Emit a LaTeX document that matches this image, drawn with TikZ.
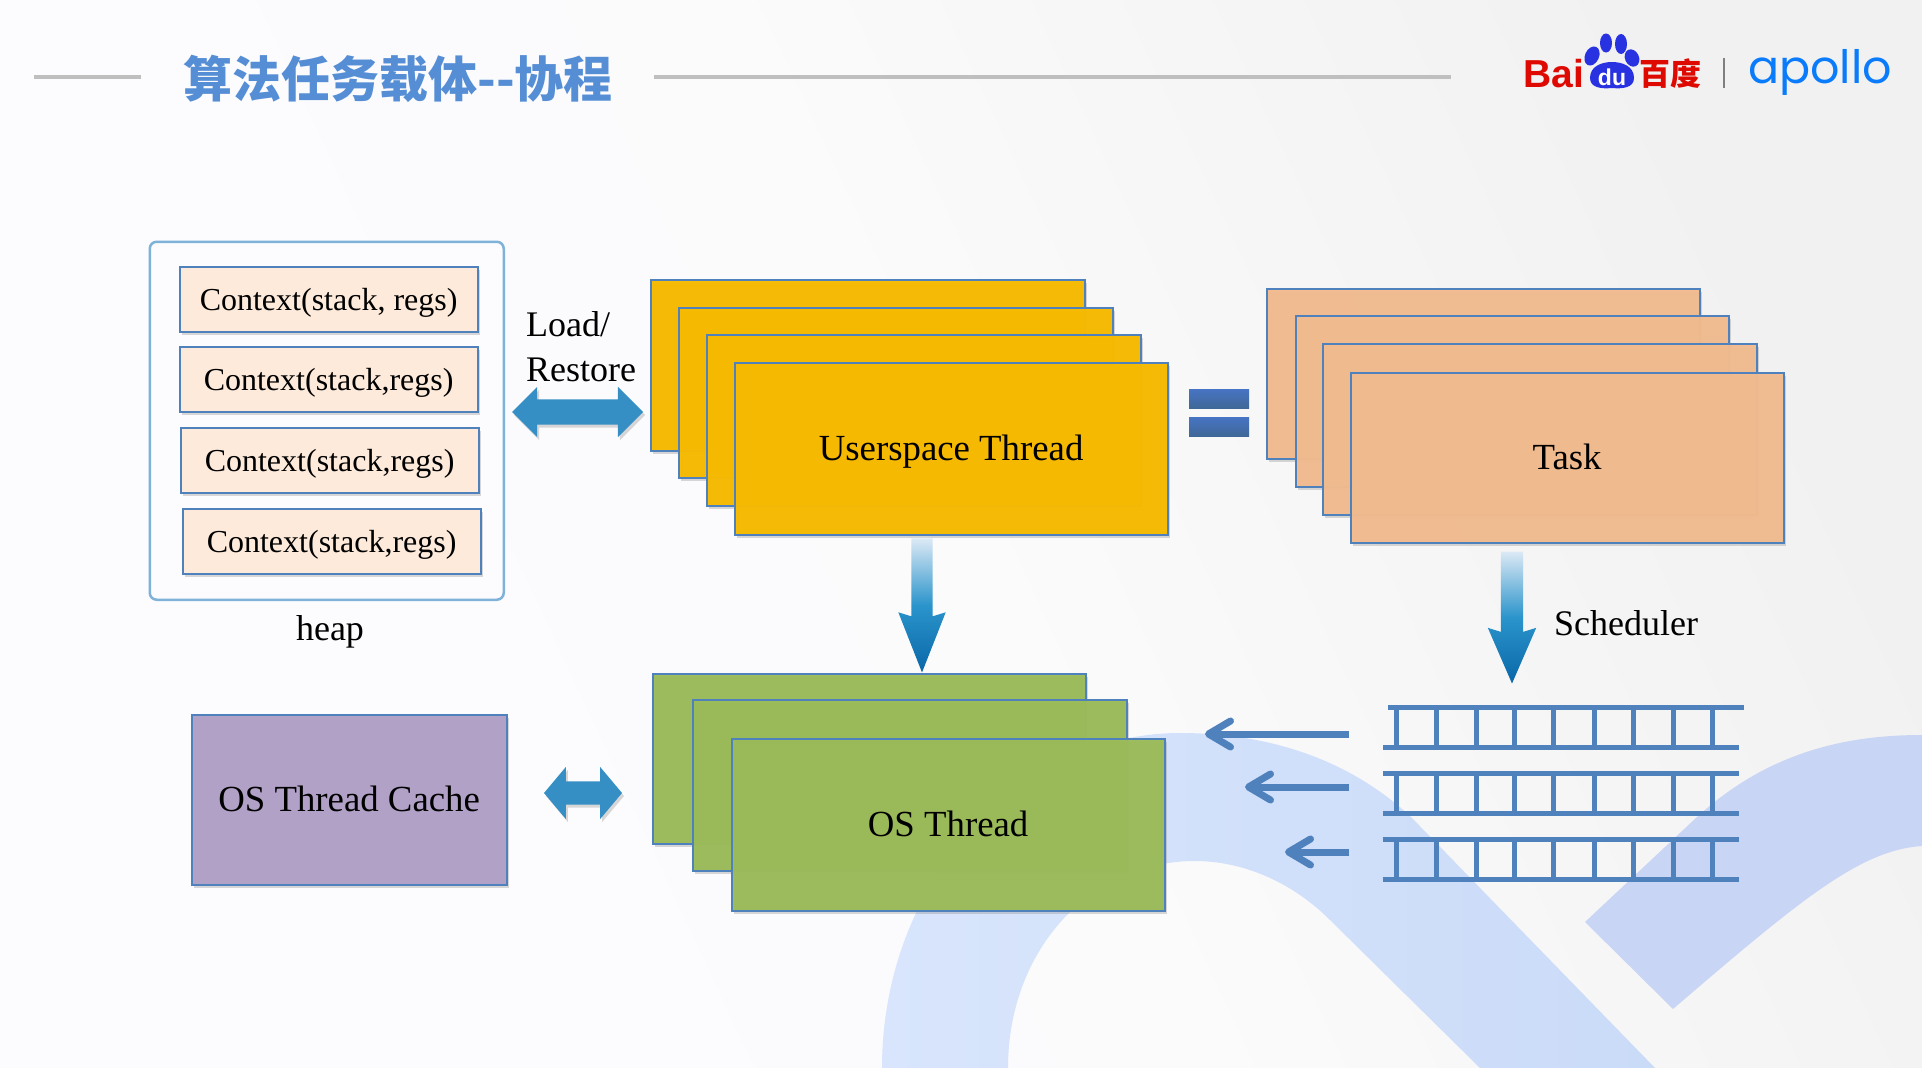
\documentclass[tikz,border=0pt]{standalone}
\usepackage{fontspec}
\setmainfont{Liberation Serif}
\newfontfamily\titlefont{Noto Sans CJK SC}
\newfontfamily\baidufont{Liberation Sans}
\newfontfamily\apollofont{Poppins}
\usetikzlibrary{arrows.meta,shapes.arrows,shadows}
\definecolor{framec}{HTML}{4F81BD}
\definecolor{yellowc}{HTML}{F7BA00}
\definecolor{orangec}{HTML}{F1BB8F}
\definecolor{greenc}{HTML}{9BBB59}
\definecolor{purplec}{HTML}{B1A0C7}
\definecolor{ctxc}{HTML}{FDEADA}
\definecolor{heapc}{HTML}{7FB2D9}
\definecolor{arrowc}{HTML}{358FC4}
\definecolor{archl}{HTML}{D8E5FC}
\definecolor{archr}{HTML}{CADBF8}
\definecolor{bandc}{HTML}{C9D5F5}
\definecolor{titlec}{HTML}{558ED5}
\definecolor{rulec}{HTML}{BFBFBF}
\definecolor{baiduc}{HTML}{DE0A02}
\definecolor{pawc}{HTML}{2932E1}
\definecolor{apolloc}{HTML}{0A7BFA}
\definecolor{fadetop}{HTML}{DCE9F5}
\definecolor{fademid}{HTML}{2A94CB}
\definecolor{fadeend}{HTML}{0A67A8}
\definecolor{bgl}{HTML}{FCFCFF}
\definecolor{bgm}{HTML}{FBFBFC}
\definecolor{bgr}{HTML}{F1F1F1}
\tikzset{
  softshadow/.style={drop shadow={opacity=.3,shadow xshift=2pt,shadow yshift=-3pt}},
  sheet/.style={draw=framec,line width=2.2pt,anchor=north west,inner sep=0pt,softshadow,fill opacity=.97,text opacity=1,
    xshift=-1.5pt,yshift=1.5pt,text height=25pt,text depth=2pt,font=\fontsize{36.8}{44}\selectfont},
  ctx/.style={draw=framec,line width=2.2pt,fill=ctxc,anchor=north west,inner sep=0pt,softshadow,xshift=-1.5pt,yshift=1.5pt,
    minimum width=298pt,minimum height=65pt,text height=25pt,text depth=1.6pt,font=\fontsize{32}{36}\selectfont},
  plain/.style={inner sep=0pt,font=\fontsize{36}{45}\selectfont},
  downarrow/.style={single arrow,shape border rotate=270,inner sep=0pt,anchor=tip,
    single arrow head indent=4pt,top color=fadetop,bottom color=fadeend,middle color=fademid},
  twoarrow/.style={double arrow,inner sep=0pt,fill=arrowc,softshadow},
  qarrow/.style={draw=framec,line width=7pt,-{Straight Barb[length=22pt,width=26pt,round,line width=7pt]},line cap=butt},
}
\begin{document}
\begin{tikzpicture}[x=1pt,y=-1pt]
\useasboundingbox (0,0) rectangle (1922,1068);
\shade[left color=bgl,right color=bgr,middle color=bgm,shading angle=115] (0,0) rectangle (1922,1068);
% background marks
\shade[left color=archl,right color=archr] (882,1068) .. controls (882,880) and (1020,733) .. (1180,733)
  .. controls (1270,733) and (1350,760) .. (1411,817) -- (1655,1068) -- (1480,1068) -- (1330,920)
  .. controls (1290,880) and (1240,861) .. (1195,861)
  .. controls (1090,861) and (1008,950) .. (1008,1068) -- cycle;
\fill[bandc] (1585,922) -- (1697,817) .. controls (1770,750) and (1850,735) .. (1922,735)
  -- (1922,846) .. controls (1860,850) and (1800,900) .. (1673,1009) -- cycle;
% title
\draw[rulec,line width=3.5pt] (34,77) -- (141,77);
\draw[rulec,line width=3.5pt] (654,77) -- (1451,77);
\node[text=titlec,inner sep=0pt] (title) at (398,79) {\titlefont\bfseries\fontsize{49}{56}\selectfont 算法任务载体--协程};
% logo
\node[text=baiduc,inner sep=0pt,anchor=west] (bai) at (1523,74) {\baidufont\bfseries\fontsize{39}{44}\selectfont Bai};
\fill[pawc,rotate around={-25:(1592,56)}] (1592,56) ellipse (7 and 10);
\fill[pawc] (1606,43) ellipse (6 and 9.5);
\fill[pawc] (1621,44) ellipse (6 and 10);
\fill[pawc,rotate around={25:(1632,58)}] (1632,58) ellipse (7 and 9);
\fill[pawc] (1590,78) .. controls (1590,66) and (1602,62) .. (1612,62)
  .. controls (1622,62) and (1634,66) .. (1634,78) .. controls (1634,88) and (1622,89) .. (1612,88)
  .. controls (1602,89) and (1590,88) .. (1590,78) -- cycle;
\node[text=white,inner sep=0pt] (du) at (1612,77) {\baidufont\bfseries\fontsize{23}{26}\selectfont du};
\node[text=baiduc,inner sep=0pt,anchor=west] (baidu) at (1639,74) {\titlefont\bfseries\fontsize{31}{34}\selectfont 百度};
\draw[black!50,line width=1.5pt] (1724,58) -- (1724,88);
\node[text=apolloc,inner sep=0pt,anchor=west] (apollo) at (1748,72) {\apollofont\fontsize{46}{50}\selectfont apollo};
% heap
\node[draw=heapc,line width=2.5pt,rounded corners=7pt,fill=bgl,anchor=north west,inner sep=0pt,xshift=-1.5pt,yshift=1.5pt,
  minimum width=354pt,minimum height=358pt] (heap) at (150,242) {};
\node[ctx] (c1) at (180,267) {Context(stack, regs)};
\node[ctx] (c2) at (180,347) {Context(stack,regs)};
\node[ctx] (c3) at (181,428) {Context(stack,regs)};
\node[ctx] (c4) at (183,509) {Context(stack,regs)};
\node[plain] (heaplabel) at (330,632) {heap};
\node[plain,align=left,anchor=west] (load) at (526,347) {Load/\\Restore};
\node[twoarrow,minimum height=131pt,text height=25pt,text depth=0pt,double arrow head extend=12.5pt] (loadarrow) at (577.5,412) {};
% userspace threads
\node[sheet,fill=yellowc,minimum width=434pt,minimum height=171pt] (y1) at (651,280) {};
\node[sheet,fill=yellowc,minimum width=434pt,minimum height=170pt] (y2) at (679,308) {};
\node[sheet,fill=yellowc,minimum width=434pt,minimum height=171pt] (y3) at (707,335) {};
\node[sheet,fill=yellowc,minimum width=433pt,minimum height=172pt] (y4) at (735,363) {Userspace Thread};
% equals
\shade[top color=framec!90!blue,bottom color=framec!80!black] (1189,389) rectangle (1249,408);
\shade[top color=framec!90!blue,bottom color=framec!80!black] (1189,417) rectangle (1249,436);
% tasks
\node[sheet,fill=orangec,minimum width=433pt,minimum height=170pt] (o1) at (1267,289) {};
\node[sheet,fill=orangec,minimum width=433pt,minimum height=171pt] (o2) at (1296,316) {};
\node[sheet,fill=orangec,minimum width=434pt,minimum height=171pt] (o3) at (1323,344) {};
\node[sheet,fill=orangec,minimum width=433pt,minimum height=170pt] (o4) at (1351,373) {Task};
% os threads
\node[sheet,fill=greenc,minimum width=433pt,minimum height=170pt] (g1) at (653,674) {};
\node[sheet,fill=greenc,minimum width=434pt,minimum height=171pt] (g2) at (693,700) {};
\node[sheet,fill=greenc,minimum width=433pt,minimum height=172pt] (g3) at (732,739) {OS Thread};
\node[sheet,fill=purplec,minimum width=315pt,minimum height=170pt] (cache) at (192,715) {OS Thread Cache};
\node[twoarrow,minimum height=78pt,text height=23pt,text depth=0pt,double arrow head extend=14.5pt,double arrow tip angle=100] (cachearrow) at (583,793) {};
% block arrows
\node[downarrow,minimum height=134pt,text width=21pt,single arrow head extend=13pt,single arrow tip angle=43] (toos) at (922,673) {};
\node[downarrow,minimum height=132pt,text width=22pt,single arrow head extend=13pt,single arrow tip angle=47] (sched) at (1512,684) {};
\node[plain,anchor=west] (schedlabel) at (1554,623) {Scheduler};
% queues
\foreach \qy/\qs in {705/5,771/0,837/0}{
  \foreach \qx in {1396.5,1436,1476,1514.5,1553,1594,1633,1673,1712}
    \fill[framec] (\qx-2.5,\qy) rectangle (\qx+2.5,\qy+45);
  \fill[framec] (1383+\qs,\qy) rectangle (1739+\qs,\qy+5);
  \fill[framec] (1383,\qy+40) rectangle (1739,\qy+45);
}
\coordinate (qa) at (1349,734);
\coordinate (qb) at (1349,787);
\coordinate (qc) at (1349,852);
\coordinate (tipa) at (1205,734);
\coordinate (tipb) at (1245,787);
\coordinate (tipc) at (1285,852);
\draw[qarrow] (qa) -- (tipa);
\draw[qarrow] (qb) -- (tipb);
\draw[qarrow] (qc) -- (tipc);
\end{tikzpicture}
\end{document}
